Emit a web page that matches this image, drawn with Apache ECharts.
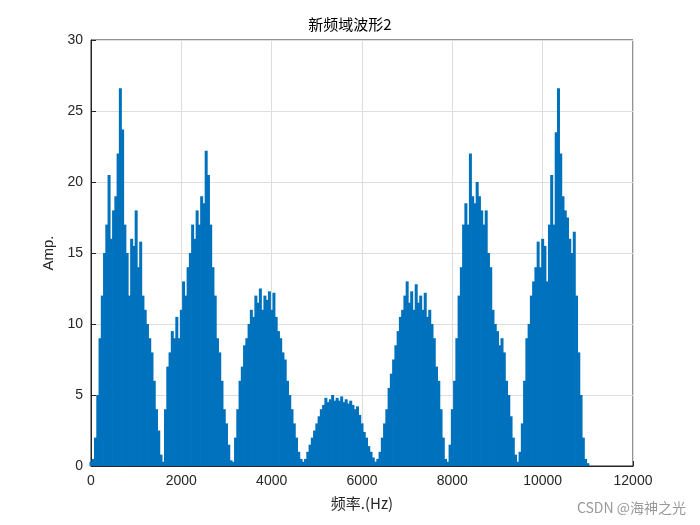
<!DOCTYPE html>
<html>
<head>
<meta charset="utf-8">
<script src="https://cdn.jsdelivr.net/npm/echarts@6/dist/echarts.min.js"></script>
<style>
  html, body { margin: 0; padding: 0; background: #fff; }
  #chart { width: 700px; height: 525px; }
</style>
</head>
<body>
<div id="chart"></div>
<script>
// [频率 Hz, 幅值] 读图估计的峰值包络
const band1 = [[0,0.3],[50,0.5],[100,2],[150,5],[200,9],[250,12],[300,15],[350,17],[400,20.5],[450,16],[500,18],[550,19],[600,22],[650,26.6],[700,23.7],[750,17],[800,15],[850,12],[900,16],[950,15.5],[1000,18],[1050,14],[1100,15.8],[1150,12],[1200,11],[1250,10],[1300,9],[1350,8],[1400,6],[1450,4],[1500,2.5],[1550,0.8],[1600,0.3]];
const band2 = [[1650,4],[1700,7],[1750,8],[1800,9.5],[1850,9],[1900,10.5],[1950,9],[2000,11],[2050,13],[2100,12],[2150,14],[2200,15],[2250,17],[2300,16],[2350,18],[2400,17],[2450,19],[2500,18.5],[2550,22.2],[2600,20.5],[2650,17],[2700,14],[2750,12],[2800,9],[2850,8],[2900,6],[2950,4],[3000,3],[3050,1.5],[3100,0.4],[3150,0.3]];
const band3 = [[3200,2],[3250,4],[3300,6],[3350,7],[3400,8.5],[3450,9],[3500,10],[3550,11],[3600,10.5],[3650,12],[3700,11.5],[3750,12.5],[3800,11],[3850,12],[3900,11.7],[3950,12.3],[4000,11],[4050,12.2],[4100,10.5],[4150,9.5],[4200,9],[4250,8],[4300,7.5],[4350,6],[4400,5],[4450,4],[4500,3],[4550,2],[4600,1],[4650,0.5],[4700,0.3]];
const band4 = [[4750,0.5],[4800,1],[4850,1.5],[4900,2],[4950,2.5],[5000,3],[5050,3.5],[5100,4],[5150,4.3],[5200,4.8],[5250,4.5],[5300,4.7],[5350,5],[5400,4.6],[5450,4.8],[5500,4.6],[5550,4.9],[5600,4.5],[5650,4.7],[5700,4.4],[5750,4.6],[5800,4.3],[5850,4],[5900,4.2],[5950,3.6],[6000,3],[6050,2.4],[6100,2],[6150,1.4],[6200,1],[6250,0.6],[6300,0.3]];
const band5 = [[6350,0.5],[6400,1],[6450,2],[6500,3],[6550,4],[6600,5.5],[6650,6.5],[6700,7.5],[6750,8.5],[6800,9.5],[6850,10.5],[6900,11],[6950,12],[7000,13],[7050,11.5],[7100,12.3],[7150,11],[7200,12.8],[7250,11.5],[7300,12],[7350,11],[7400,12.2],[7450,10.5],[7500,11],[7550,10],[7600,9],[7650,7],[7700,6],[7750,4],[7800,2],[7850,0.5],[7900,0.3]];
const band6 = [[7950,1.5],[8000,4],[8050,6],[8100,9],[8150,12],[8200,14],[8250,17],[8300,18.5],[8350,17],[8400,22],[8450,19],[8500,18.5],[8550,20],[8600,19],[8650,18],[8700,17],[8750,18],[8800,15],[8850,14],[8900,11],[8950,10],[9000,9.5],[9050,8.5],[9100,9],[9150,8],[9200,6],[9250,5],[9300,3.5],[9350,2],[9400,0.8],[9450,0.3]];
const band7 = [[9500,1],[9550,3],[9600,6],[9650,9],[9700,10],[9750,12],[9800,13],[9850,14],[9900,15.8],[9950,14],[10000,16],[10050,15.5],[10100,13],[10150,17],[10200,20.5],[10250,17],[10300,23.5],[10350,26.6],[10400,22],[10450,19],[10500,18],[10550,17.5],[10600,16],[10650,15],[10700,16.5],[10750,12],[10800,8],[10850,5],[10900,2],[10950,0.5],[11000,0.2]];

const spectrum = [].concat(band1, band2, band3, band4, band5, band6, band7);

const chart = echarts.init(document.getElementById('chart'));
const axisFont = { fontFamily: 'Arial, Liberation Sans', fontSize: 14, color: '#262626', formatter: (v) => String(v) };
chart.setOption({
  animation: false,
  title: {
    text: '新频域波形2', left: 'center', top: 12,
    textStyle: { fontFamily: 'Noto Sans CJK SC', fontSize: 15, fontWeight: 'normal', color: '#000' }
  },
  graphic: [{
    type: 'text', right: 14, bottom: 10,
    style: { text: 'CSDN @海神之光', fill: '#999', fontSize: 14, fontFamily: 'Noto Sans CJK SC' }
  }],
  grid: { left: 91, right: 67, top: 40, bottom: 59, show: true, borderColor: '#262626', borderWidth: 1 },
  xAxis: {
    type: 'value', min: 0, max: 12000, interval: 2000,
    name: '频率.(Hz)', nameLocation: 'middle', nameGap: 30,
    nameTextStyle: { fontFamily: 'Noto Sans CJK SC', fontSize: 15, color: '#262626' },
    axisLine: { onZero: false, lineStyle: { color: '#262626' } },
    axisTick: { inside: true, length: 5, lineStyle: { color: '#262626' } },
    axisLabel: axisFont,
    splitLine: { show: true, lineStyle: { color: '#dedede' } }
  },
  yAxis: {
    type: 'value', min: 0, max: 30, interval: 5,
    name: 'Amp.', nameLocation: 'middle', nameGap: 35,
    nameTextStyle: { fontFamily: 'Arial, Liberation Sans', fontSize: 15, color: '#262626' },
    axisLine: { show: true, lineStyle: { color: '#262626' } },
    axisTick: { inside: true, length: 5, lineStyle: { color: '#262626' } },
    axisLabel: axisFont,
    splitLine: { show: true, lineStyle: { color: '#dedede' } }
  },
  series: [
    {
      type: 'bar', data: spectrum, barWidth: 3,
      itemStyle: { color: '#0072BD' }, silent: true
    }
  ]
});
</script>
</body>
</html>
